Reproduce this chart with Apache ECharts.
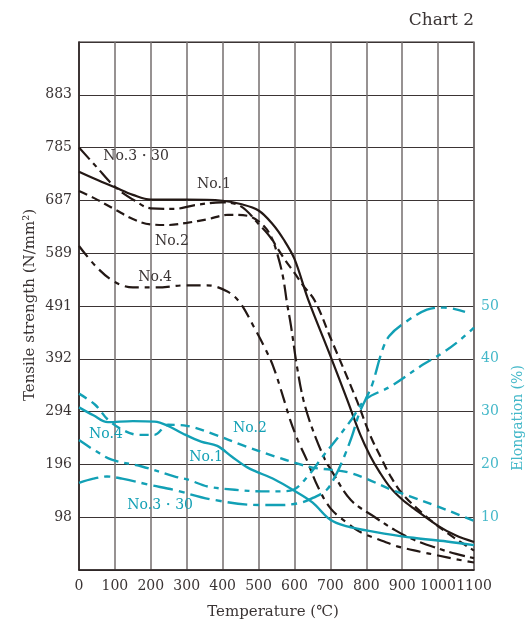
<!DOCTYPE html>
<html>
<head>
<meta charset="utf-8">
<script src="https://cdn.jsdelivr.net/npm/echarts@6/dist/echarts.min.js"></script>
<style>
  html, body { margin: 0; padding: 0; background: #fff; }
  #chart { width: 528px; height: 627px; }
</style>
</head>
<body>
<div id="chart"></div>
<script>
// temperature axis (°C)
const tempTicks = [0, 100, 200, 300, 400, 500, 600, 700, 800, 900, 1000, 1100];
// tensile strength tick labels (N/mm2), one per 98.1 step
const strengthTicks = [98, 196, 294, 392, 491, 589, 687, 785, 883];
// elongation tick labels (%)
const elongTicks = [10, 20, 30, 40, 50];

// tensile strength curves [temp, N/mm2]
const strengthNo1 = [[0,740],[50,725],[100,711],[150,697],[200,688],[300,688],[400,686],[450,680],[500,668],[540,642],[570,614],[600,578],[638,503],[700,398],[747,316],[783,252],[811,212],[838,181],[866,154],[900,131],[931,115],[1000,82],[1050,64],[1100,52]];
const strengthNo2 = [[0,704],[45,690],[100,670],[150,652],[200,642],[250,641],[300,645],[360,652],[415,660],[470,658],[518,637],[546,605],[575,575],[600,552],[625,528],[657,500],[700,432],[773,316],[811,250],[843,206],[866,176],[900,142],[959,104],[1025,69],[1100,36]];
const strengthNo3 = [[0,785],[50,748],[100,712],[156,686],[200,672],[267,671],[323,678],[397,683],[450,676],[500,643],[537,614],[551,590],[568,545],[579,497],[590,455],[607,378],[625,316],[650,262],[685,205],[700,188],[757,130],[822,99],[880,74],[933,56],[1000,40],[1050,30],[1100,22]];
const strengthNo4 = [[0,602],[50,562],[100,535],[150,525],[216,525],[300,529],[356,529],[412,518],[448,497],[486,453],[515,416],[541,378],[571,316],[588,279],[610,240],[634,205],[665,155],[701,114],[750,86],[785,70],[850,53],[886,44],[950,34],[1000,27],[1050,20],[1100,14]];

// elongation curves [temp, %]
const elongNo1 = [[0,30.8],[40,29.3],[80,28],[150,28.2],[210,28.1],[245,27.4],[290,25.8],[340,24.3],[385,23.5],[425,21.5],[470,19.4],[546,17.1],[595,15.2],[650,12.8],[700,9.5],[750,8.2],[800,7.5],[850,6.9],[931,6.1],[1024,5.4],[1100,4.7]];
const elongNo2 = [[0,33.4],[45,31.3],[80,28.5],[120,26.6],[165,25.6],[210,25.6],[248,27.5],[300,27.3],[380,25.6],[453,23.7],[546,21.5],[602,20.3],[650,19.4],[700,19],[750,18.5],[800,17.3],[870,15.2],[920,14],[1000,12],[1060,10.4],[1100,9.3]];
const elongNo3 = [[0,16.5],[40,17.3],[78,17.7],[120,17.3],[198,16.1],[262,15.2],[374,13.3],[504,12.3],[560,12.3],[615,12.7],[653,13.7],[690,15.2],[713,17.7],[735,20.9],[760,25.3],[780,29.6],[798,32.3],[816,35],[845,41.7],[864,44.3],[900,46.5],[969,49.3],[1017,49.7],[1075,48.9]];
const elongNo4 = [[0,24.6],[45,22.6],[91,20.9],[175,19.6],[267,17.7],[304,17.1],[359,15.8],[434,15.2],[509,14.9],[560,14.9],[597,15.2],[640,18],[680,21.6],[720,25],[760,28.6],[798,32.3],[866,34.7],[958,38.9],[1014,41.2],[1060,43.5],[1100,45.9]];

// curve labels [text, temp, value]
const strengthLabels = [["No.3・30",159,769],["No.1",376,717],["No.2",259,611],["No.4",212,544]];
const elongLabels = [["No.4",75,25.6],["No.2",476,26.9],["No.1",354,21.4],["No.3・30",226,12.3]];

const INK = "#231815";
const CYAN = "#12a0b5";
const CYAN_TEXT = "#45b8c9";
const TEXT = "#3a3434";
const FONT = '"DejaVu Serif", serif';
const STEP = 98.1;

const chart = echarts.init(document.getElementById("chart"));

function line(data, color, type, width, yIndex) {
  return {
    type: "line",
    data: data,
    yAxisIndex: yIndex,
    smooth: 0.35,
    symbol: "none",
    silent: true,
    lineStyle: { color: color, width: width, type: type },
    z: yIndex ? 4 : 3,
  };
}

let options = {
  animation: false,
  title: {
    text: "Chart 2",
    right: 49,
    top: 7,
    textStyle: { fontFamily: FONT, fontSize: 17, fontWeight: "normal", color: TEXT },
  },
  grid: {
    left: 79,
    right: 54,
    top: 42,
    bottom: 57,
    show: true,
    borderColor: "#2b2222",
    borderWidth: 1.2,
  },
  xAxis: {
    type: "value",
    min: 0,
    max: 1100,
    interval: 100,
    axisLine: { show: true, lineStyle: { color: "#2b2222", width: 1.5 } },
    axisTick: { show: false },
    axisLabel: {
      color: TEXT,
      fontFamily: FONT,
      fontSize: 14,
      margin: 9,
      formatter: (v) => String(tempTicks[Math.round(v / 100)]),
    },
    splitLine: { show: true, lineStyle: { color: "#756e6e", width: 1.5 } },
  },
  yAxis: [
    {
      type: "value",
      min: 0,
      max: STEP * 10,
      interval: STEP,
      axisLine: { show: true, lineStyle: { color: "#2b2222", width: 1.5 } },
      axisTick: { show: false },
      axisLabel: {
        color: TEXT,
        fontFamily: FONT,
        fontSize: 14,
        margin: 7,
        formatter: (v) => {
          const i = Math.round(v / STEP);
          return i >= 1 && i <= strengthTicks.length ? String(strengthTicks[i - 1]) : "";
        },
      },
      splitLine: { show: true, lineStyle: { color: "#3b3434", width: 1 } },
    },
    {
      type: "value",
      min: 0,
      max: 100,
      interval: 10,
      position: "right",
      axisLine: { show: false },
      axisTick: { show: false },
      splitLine: { show: false },
      axisLabel: {
        color: CYAN_TEXT,
        fontFamily: FONT,
        fontSize: 14,
        margin: 7,
        formatter: (v) => (elongTicks.indexOf(v) >= 0 ? String(v) : ""),
      },
    },
  ],
  series: [
    line(strengthNo1, INK, "solid", 2.2, 0),
    line(strengthNo2, INK, [9, 5], 2.2, 0),
    line(strengthNo3, INK, [16, 5, 5, 5], 2.2, 0),
    line(strengthNo4, INK, [14, 6, 5, 6], 2.2, 0),
    line(elongNo1, CYAN, "solid", 2.4, 1),
    line(elongNo2, CYAN, [9, 6], 2.4, 1),
    line(elongNo3, CYAN, [20, 6, 6, 6], 2.4, 1),
    line(elongNo4, CYAN, [14, 6, 5, 6], 2.4, 1),
  ],
};
chart.setOption(options);

// texts placed through the chart's own scales
let graphics = [];
strengthLabels.forEach(([t, x, y]) => {
  const p = chart.convertToPixel({ xAxisIndex: 0, yAxisIndex: 0 }, [x, y]);
  graphics.push({
    type: "text", x: p[0], y: p[1], z: 10,
    style: { text: t, fill: TEXT, font: "14px " + FONT, textAlign: "center", textVerticalAlign: "middle" },
  });
});
elongLabels.forEach(([t, x, y]) => {
  const p = chart.convertToPixel({ xAxisIndex: 0, yAxisIndex: 1 }, [x, y]);
  graphics.push({
    type: "text", x: p[0], y: p[1], z: 10,
    style: { text: t, fill: CYAN, font: "14px " + FONT, textAlign: "center", textVerticalAlign: "middle" },
  });
});
// axis names
graphics.push({
  type: "text", x: 30, y: 305, rotation: Math.PI / 2,
  style: { text: "Tensile strength (N/mm²)", fill: TEXT, font: "15px " + FONT, textAlign: "center", textVerticalAlign: "middle" },
});
graphics.push({
  type: "text", x: 518, y: 418, rotation: Math.PI / 2,
  style: { text: "Elongation (%)", fill: CYAN_TEXT, font: "14px " + FONT, textAlign: "center", textVerticalAlign: "middle" },
});
graphics.push({
  type: "text", x: 273, y: 612,
  style: { text: "Temperature (℃)", fill: TEXT, font: "15px " + FONT, textAlign: "center", textVerticalAlign: "middle" },
});
chart.setOption({ graphic: graphics });
</script>
</body>
</html>
